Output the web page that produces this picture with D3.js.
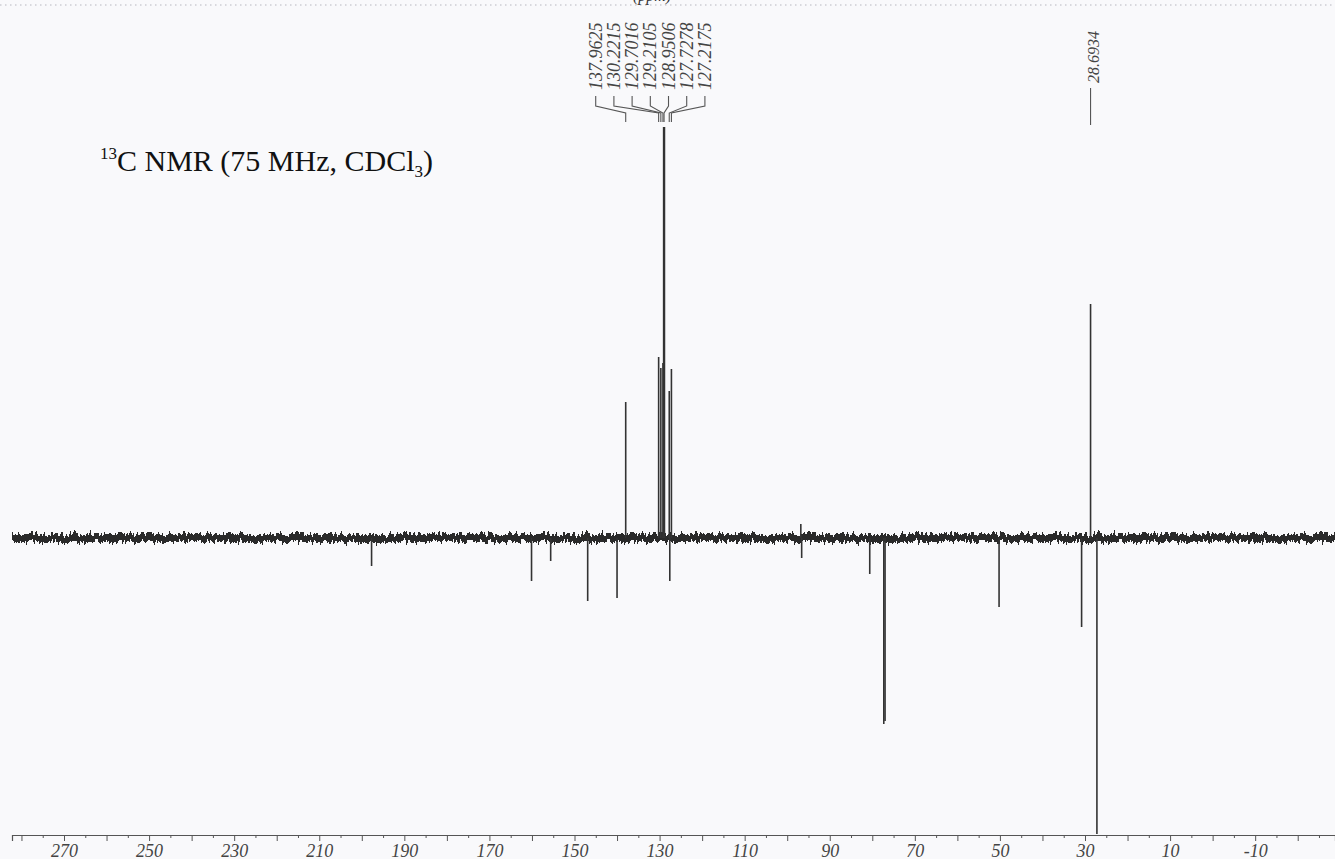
<!DOCTYPE html>
<html><head><meta charset="utf-8">
<script src="https://cdn.jsdelivr.net/npm/d3@7"></script>
<style>
html,body{margin:0;padding:0;background:#f9f9fb;}
svg{display:block;}
</style></head><body>
<svg id="chart" width="1335" height="859"></svg>
<script>
// APT 13C spectrum: chemical shifts (ppm) and signal heights (positive = up, negative = inverted)
const labelledShifts = [137.9625, 130.2215, 129.7016, 129.2105, 128.9506, 127.7278, 127.2175];
const labelledHeights = [136, 181, 170, 175, 411, 147, 169];
const singleShift = [28.6934];
const singleHeight = [234];
const otherShifts = [197.7, 160.1, 155.6, 146.9, 140.0, 127.6, 96.8, 96.6, 80.6, 77.3, 77.0, 50.2, 30.8, 27.2];
const otherHeights = [-28, -43, -23, -63, -60, -43, 14, -20, -36, -186, -183, -69, -89, -296];
const tickLabels = [270, 250, 230, 210, 190, 170, 150, 130, 110, 90, 70, 50, 30, 10, -10];

const W = 1335, H = 859;
const serif = "'Liberation Serif', 'Times New Roman', serif";
const svg = d3.select("#chart");

svg.append("rect").attr("width", W).attr("height", H).attr("fill", "#f9f9fb");

// chemical shift axis (decreasing to the right)
const x = d3.scaleLinear().domain([270, 30]).range([64, 1085]);
const xFull = x.copy().domain([x.invert(12), x.invert(W)]).range([12, W]);
const y = d3.scaleLinear().domain([0, 411]).range([538, 127]);

// page edge: dotted rule and the clipped "(ppm)" caption
svg.append("line").attr("x1", 0).attr("x2", W).attr("y1", 5).attr("y2", 5)
  .attr("stroke", "#b8b8c0").attr("stroke-width", 1.2).attr("stroke-dasharray", "1.5,3.5");
svg.append("text").attr("x", 652).attr("y", 0.5).attr("text-anchor", "middle")
  .style("font-family", serif).style("font-style", "italic").style("font-size", "16px")
  .attr("fill", "#333").text("(ppm)");

// noisy baseline
const defs = svg.append("defs");
const f = defs.append("filter").attr("id", "jitter").attr("filterUnits", "userSpaceOnUse")
  .attr("x", 0).attr("y", 500).attr("width", W).attr("height", 80);
f.append("feTurbulence").attr("type", "fractalNoise").attr("baseFrequency", "0.5 0.04")
  .attr("numOctaves", 2).attr("seed", 7).attr("result", "n");
f.append("feDisplacementMap").attr("in", "SourceGraphic").attr("in2", "n").attr("scale", 12)
  .attr("xChannelSelector", "R").attr("yChannelSelector", "G");
svg.append("line").attr("x1", 12).attr("x2", W).attr("y1", y(0)).attr("y2", y(0))
  .attr("stroke", "#2a2a2a").attr("stroke-width", 8).attr("filter", "url(#jitter)");

const clip = defs.append("clipPath").attr("id", "plot");
clip.append("rect").attr("x", 0).attr("y", 0).attr("width", W).attr("height", 835);

// signals
const peaks = svg.append("g").attr("clip-path", "url(#plot)");
const allShifts = labelledShifts.concat(singleShift, otherShifts);
const allHeights = labelledHeights.concat(singleHeight, otherHeights);
peaks.selectAll("line.peak").data(allShifts).join("line").attr("class", "peak")
  .attr("x1", d => x(d)).attr("x2", d => x(d))
  .attr("y1", y(0)).attr("y2", (d, i) => y(allHeights[i]))
  .attr("stroke", "#333").attr("stroke-width", (d, i) => Math.abs(allHeights[i]) > 400 ? 2.4 : 1.6);

// peak labels with connectors
const lab = svg.append("g");
const labelX = (i) => x(labelledShifts[0]) - 30 + i * 18.2;
lab.selectAll("path.conn").data(labelledShifts).join("path").attr("class", "conn")
  .attr("d", (d, i) => `M${labelX(i)},96 L${labelX(i)},106 L${x(d)},113 L${x(d)},122`)
  .attr("fill", "none").attr("stroke", "#555").attr("stroke-width", 1.1);
lab.selectAll("text.sh").data(labelledShifts).join("text").attr("class", "sh")
  .attr("transform", (d, i) => `translate(${labelX(i) + 6},90) rotate(-90)`)
  .style("font-family", serif).style("font-style", "italic").style("font-size", "18px")
  .attr("fill", "#444").text(d => d.toFixed(4));
lab.selectAll("path.conn1").data(singleShift).join("path").attr("class", "conn1")
  .attr("d", d => `M${x(d)},88 L${x(d)},125`)
  .attr("fill", "none").attr("stroke", "#555").attr("stroke-width", 1.1);
lab.selectAll("text.sh1").data(singleShift).join("text").attr("class", "sh1")
  .attr("transform", d => `translate(${x(d) + 8},83) rotate(-90)`)
  .style("font-family", serif).style("font-style", "italic").style("font-size", "16px")
  .attr("fill", "#444").text(d => d.toFixed(4));

// axis
const ticks = d3.range(280, -30, -5);
const axis = d3.axisBottom(xFull).tickValues(ticks).tickSizeOuter(0).tickSize(6)
  .tickFormat(d => tickLabels.includes(d) ? String(d) : "");
const ag = svg.append("g").attr("transform", "translate(0,835)").call(axis);
ag.select(".domain").attr("stroke", "#555").attr("stroke-width", 1.2);
ag.selectAll(".tick line").attr("stroke", "#555").attr("y2", d => d % 10 === 0 ? 6 : 3);
ag.selectAll(".tick text").attr("y", 22).attr("dy", 0)
  .style("font-family", serif).style("font-style", "italic").style("font-size", "18px")
  .attr("fill", "#444");

// title
const title = svg.append("text").attr("x", 100).attr("y", 171)
  .style("font-family", serif).style("font-size", "30px").attr("fill", "#111");
title.append("tspan").text("13").style("font-size", "17px").attr("dy", -12);
title.append("tspan").text("C NMR (75 MHz, CDCl").attr("dy", 12);
title.append("tspan").text("3").style("font-size", "17px").attr("dy", 6);
title.append("tspan").text(")").attr("dy", -6);
</script>
</body></html>
